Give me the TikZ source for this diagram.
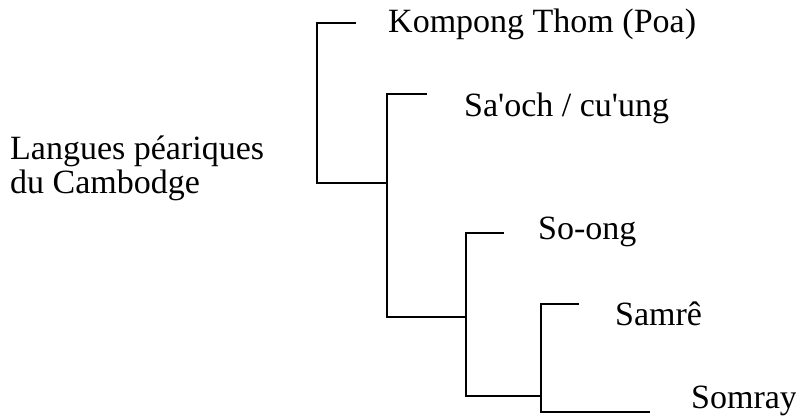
\documentclass[tikz,border=0pt]{standalone}
\usepackage{fontspec}
\setmainfont{Liberation Serif}
\begin{document}
\begin{tikzpicture}[x=1pt,y=-1pt,
  lang/.style={anchor=base west,inner sep=0pt,font=\fontsize{34}{35}\selectfont},
  branch/.style={line width=1.1pt,line cap=rect}]
\useasboundingbox (0,0) rectangle (796,417);

% labels (the two-line label is anchored on its last baseline)
\node[lang,align=left] (root) at (10,194) {Langues péariques\\du Cambodge};
\node[lang] (kt) at (388,33) {Kompong Thom (Poa)};
\node[lang] (so) at (464,117) {Sa\textquotesingle och / cu\textquotesingle ung};
\node[lang] (song) at (538,240) {So-ong};
\node[lang] (sam) at (615,325) {Samrê};
\node[lang] (som) at (691,408) {Somray};

% junction points of the tree
\coordinate (a1) at (317,23);  \coordinate (a2) at (317,183);
\coordinate (b1) at (387,94);  \coordinate (b2) at (387,317);
\coordinate (c1) at (466,233); \coordinate (c2) at (466,396);
\coordinate (d1) at (541,304); \coordinate (d2) at (541,412);

% leaf stubs
\coordinate (kte) at (355,23);
\coordinate (soe) at (426,94);
\coordinate (songe) at (503,233);
\coordinate (same) at (578,304);
\coordinate (some) at (649,412);

\draw[branch] (kte) -- (a1) -- (a2) -- (a2 -| b1);
\draw[branch] (soe) -- (b1) -- (b2) -- (c2 |- b2);
\draw[branch] (songe) -- (c1) -- (c2) -- (d1 |- c2);
\draw[branch] (same) -- (d1) -- (d2) -- (some);
\end{tikzpicture}
\end{document}
